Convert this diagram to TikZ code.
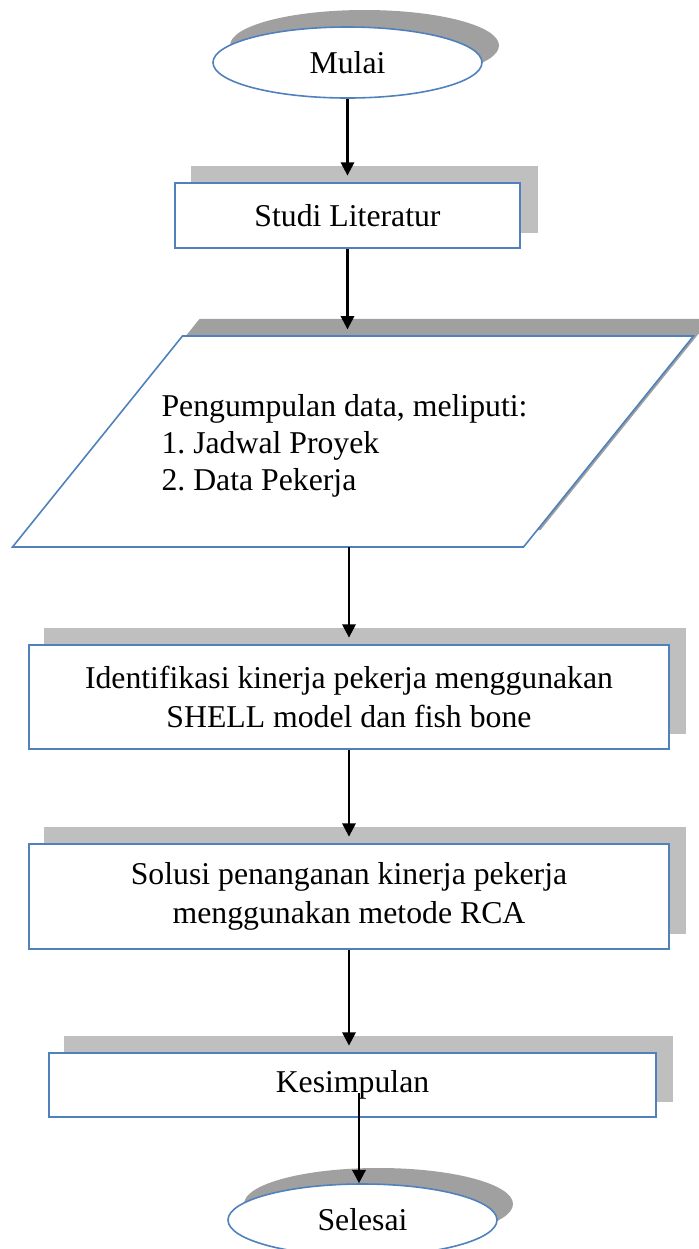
\documentclass[tikz,border=0pt]{standalone}
\usepackage{fontspec}
\setmainfont{Liberation Serif}
\usetikzlibrary{shapes.geometric,arrows.meta,calc}
\definecolor{bordblue}{HTML}{4F81BD}
\definecolor{shadowdark}{HTML}{A0A0A0}
\definecolor{shadowlight}{HTML}{BFBFBF}
\pgfdeclarelayer{back}
\pgfdeclarelayer{bg}
\pgfsetlayers{back,bg,main}
\frenchspacing
\begin{document}
\begin{tikzpicture}[x=0.378pt,y=-0.378pt,
  every node/.style={font=\fontsize{12}{14.5}\selectfont},
  procbox/.style={draw=bordblue, line width=0.6pt, fill=white, rectangle, inner sep=0pt, align=center},
  termin/.style={draw=bordblue, line width=0.6pt, fill=white, ellipse, inner sep=0pt},
  flowarrow/.style={line width=0.9pt, -{Triangle[width=5pt,length=5pt]}, shorten >=2.5pt},
  ]
\useasboundingbox (0,0) rectangle (699,1249);
\begin{pgfonlayer}{back}
\fill[white] (0,0) rectangle (699,1249);
\end{pgfonlayer}

\node[termin, minimum width=101.68pt, minimum height=26.84pt] (mulai) at (347.5,62.5) {Mulai};
\node[procbox, minimum width=130.41pt, minimum height=24.57pt] (studi) at (347.5,215.5) {Studi Literatur};
\node[inner sep=0pt, minimum width=257.04pt, minimum height=79.38pt] (para) at (353,441.5) {};
\node[procbox, minimum width=241.92pt, minimum height=39.31pt] (ident) at (349,697) {Identifikasi kinerja pekerja menggunakan\\SHELL model dan fish bone};
\node[procbox, minimum width=241.92pt, minimum height=39.69pt] (sol) at (349,896.5) {Solusi penanganan kinerja pekerja\\menggunakan metode RCA};
\node[procbox, minimum width=229.45pt, minimum height=24.19pt] (kes) at (352.5,1085) {Kesimpulan};
\node[termin, minimum width=101.68pt, minimum height=27.22pt] (sel) at (362.5,1220) {Selesai};

\draw[draw=bordblue, line width=0.6pt, fill=white] (para.south west) -- ($(para.north west)+(170,0)$) -- (para.north east) -- ($(para.south east)+(-170,0)$) -- cycle;
\node[align=left, anchor=west, inner sep=0pt, font=\fontsize{12}{14}\selectfont] (paratxt) at (161,446) {Pengumpulan data, meliputi:\\1. Jadwal Proyek\\2. Data Pekerja};

\begin{pgfonlayer}{bg}
\fill[shadowdark] ($(mulai.center)+(17,-17)$) ellipse [x radius=50.84pt, y radius=13.42pt];
\fill[shadowdark] ($(sel.center)+(16,-16)$) ellipse [x radius=50.84pt, y radius=13.61pt];
\fill[shadowlight] ($(studi.south west)+(17,-16)$) rectangle ($(studi.north east)+(17,-16)$);
\fill[shadowlight] ($(ident.south west)+(16,-16)$) rectangle ($(ident.north east)+(16,-16)$);
\fill[shadowlight] ($(sol.south west)+(16,-16)$) rectangle ($(sol.north east)+(16,-16)$);
\fill[shadowlight] ($(kes.south west)+(16,-16)$) rectangle ($(kes.north east)+(16,-16)$);
\fill[shadowdark] ($(para.south west)+(17,-17)$) -- ($(para.north west)+(187,-17)$) -- ($(para.north east)+(17,-17)$) -- ($(para.south east)+(-153,-17)$) -- cycle;
\end{pgfonlayer}

\draw[flowarrow] (mulai.south) -- (studi.north);
\draw[flowarrow] (studi.south) -- (studi.south |- para.north);
\draw[flowarrow] (ident.north |- para.south) -- (ident.north);
\draw[flowarrow] (ident.south) -- (sol.north);
\draw[flowarrow] (sol.south) -- (sol.south |- kes.north);
\coordinate (kstart) at (359,1093);
\draw[flowarrow, shorten >=0pt] (kstart) -- (kstart |- sel.north);
\end{tikzpicture}
\end{document}
